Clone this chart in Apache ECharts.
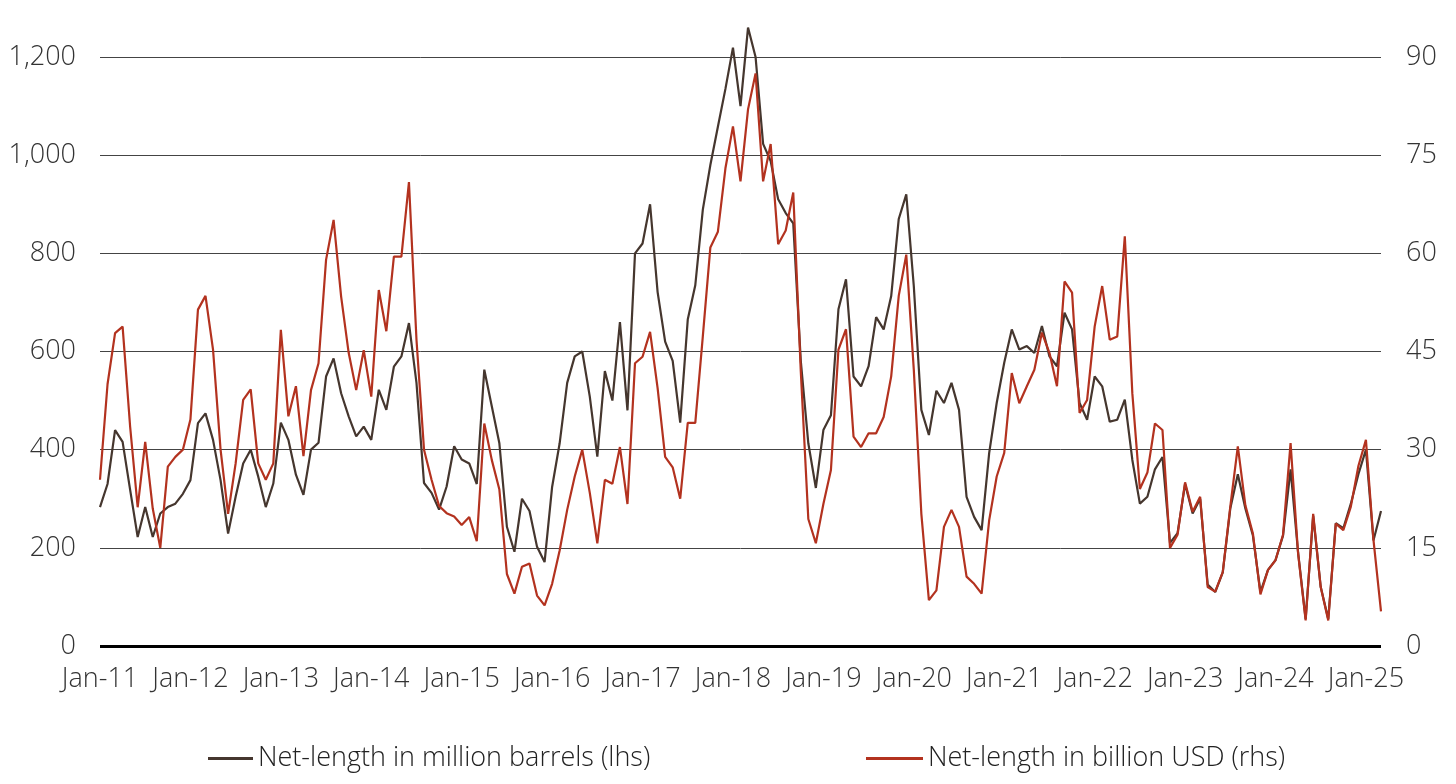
<!doctype html>
<html lang="en">
<head>
    <meta charset="UTF-8">
    <title>Net-length</title>
    <script src="https://cdn.jsdelivr.net/npm/echarts@6/dist/echarts.min.js"></script>
    <style>
        * {
            margin: 0;
            padding: 0;
        }

        body {
            background: #ffffff;
        }

        #chart {
            width: 1456px;
            height: 784px;
        }
    </style>
</head>
<body>
<div id="chart"></div>

<script type="application/javascript">
    // monthly readings, Jan 2011 .. Mar 2025
    const startYear = 2011;

    const barrels2011 = [283, 330, 440, 416, 318, 222, 283, 222, 270, 283, 290, 310];
    const barrels2012 = [338, 454, 474, 420, 338, 229, 304, 372, 400, 345, 283, 331];
    const barrels2013 = [455, 420, 349, 308, 400, 414, 549, 586, 515, 468, 427, 447];
    const barrels2014 = [420, 522, 481, 569, 590, 658, 536, 332, 312, 278, 325, 407];
    const barrels2015 = [380, 372, 330, 563, 488, 413, 243, 192, 300, 275, 202, 171];
    const barrels2016 = [324, 413, 536, 590, 600, 508, 386, 560, 500, 660, 480, 800];
    const barrels2017 = [820, 900, 721, 620, 581, 455, 665, 735, 889, 980, 1058, 1135];
    const barrels2018 = [1219, 1100, 1260, 1200, 1023, 988, 910, 882, 861, 581, 413, 322];
    const barrels2019 = [440, 470, 686, 747, 549, 529, 570, 670, 645, 713, 870, 920];
    const barrels2020 = [733, 481, 430, 520, 495, 536, 481, 304, 263, 236, 393, 495];
    const barrels2021 = [577, 645, 604, 611, 597, 652, 590, 570, 679, 645, 495, 461];
    const barrels2022 = [549, 529, 457, 461, 502, 379, 290, 304, 360, 385, 210, 230];
    const barrels2023 = [330, 270, 300, 125, 110, 150, 280, 350, 280, 225, 110, 155];
    const barrels2024 = [175, 225, 360, 190, 55, 265, 120, 55, 250, 240, 290, 350];
    const barrels2025 = [400, 215, 275];

    const usd2011 = [25.4, 40.0, 47.8, 48.8, 33.5, 21.2, 31.2, 21.0, 15.0, 27.4, 28.9, 30.0];
    const usd2012 = [34.6, 51.4, 53.5, 45.3, 30.0, 20.2, 27.9, 37.6, 39.2, 27.9, 25.4, 27.9];
    const usd2013 = [48.3, 35.1, 39.7, 29.0, 39.1, 43.2, 59.0, 65.1, 53.4, 44.8, 39.1, 45.2];
    const usd2014 = [38.1, 54.4, 48.1, 59.5, 59.5, 70.9, 46.8, 30.0, 25.4, 21.4, 20.3, 19.8];
    const usd2015 = [18.5, 19.7, 16.0, 34.0, 28.4, 23.9, 11.0, 8.0, 12.1, 12.6, 7.7, 6.2];
    const usd2016 = [9.5, 14.6, 20.8, 25.9, 30.0, 23.4, 15.7, 25.4, 24.8, 30.4, 21.7, 43.2];
    const usd2017 = [44.2, 48.0, 39.4, 28.9, 27.3, 22.5, 34.1, 34.1, 47.3, 60.9, 63.3, 73.0];
    const usd2018 = [79.4, 71.0, 82.0, 87.5, 71.0, 76.7, 61.4, 63.5, 69.3, 42.0, 19.4, 15.7];
    const usd2019 = [21.7, 26.9, 45.3, 48.4, 32.0, 30.4, 32.5, 32.5, 35.0, 41.2, 53.5, 59.8];
    const usd2020 = [42.2, 20.2, 7.0, 8.5, 18.2, 20.8, 18.2, 10.6, 9.5, 8.0, 19.2, 25.9];
    const usd2021 = [29.5, 41.7, 37.1, 39.7, 42.2, 47.9, 44.8, 39.7, 55.7, 54.0, 35.6, 37.6];
    const usd2022 = [48.8, 55.0, 46.8, 47.3, 62.6, 38.6, 24.0, 26.5, 34.0, 33.0, 15.0, 17.0];
    const usd2023 = [25.0, 20.5, 22.8, 9.0, 8.3, 11.3, 21.3, 30.5, 21.5, 17.2, 7.9, 11.6];
    const usd2024 = [13.1, 17.0, 31.0, 14.1, 3.9, 20.2, 9.0, 3.9, 18.7, 17.7, 21.3, 27.5];
    const usd2025 = [31.5, 16.2, 5.3];

    const leftTicks = [0, 200, 400, 600, 800, 1000, 1200];
    const rightTicks = [0, 15, 30, 45, 60, 75, 90];

    const barrels = [].concat(barrels2011, barrels2012, barrels2013, barrels2014, barrels2015,
        barrels2016, barrels2017, barrels2018, barrels2019, barrels2020, barrels2021,
        barrels2022, barrels2023, barrels2024, barrels2025);
    const usd = [].concat(usd2011, usd2012, usd2013, usd2014, usd2015, usd2016, usd2017,
        usd2018, usd2019, usd2020, usd2021, usd2022, usd2023, usd2024, usd2025);

    const monthNames = ['Jan', 'Feb', 'Mar', 'Apr', 'May', 'Jun', 'Jul', 'Aug', 'Sep', 'Oct', 'Nov', 'Dec'];
    const months = barrels.map(function (v, i) {
        const yy = String(startYear + Math.floor(i / 12)).slice(2);
        return monthNames[i % 12] + '-' + yy;
    });

    const fontFamily = '"Open Sans", "Noto Sans", sans-serif';
    const labelStyle = {
        color: '#333333',
        fontSize: 27,
        fontFamily: fontFamily,
        fontWeight: 300
    };
    const legendText = {color: '#222222', fontSize: 27, fontFamily: fontFamily, fontWeight: 300};

    const chart = echarts.init(document.getElementById('chart'), null, {renderer: 'canvas'});

    const option = {
        backgroundColor: '#ffffff',
        animation: false,
        grid: {
            left: 100,
            right: 75,
            top: 57,
            bottom: 138
        },
        legend: [
            {
                left: 203,
                top: 740,
                itemWidth: 45,
                itemHeight: 3,
                icon: 'rect',
                textStyle: legendText,
                data: ['Net-length in million barrels (lhs)']
            },
            {
                left: 861,
                top: 740,
                itemWidth: 57,
                itemHeight: 3,
                icon: 'rect',
                textStyle: legendText,
                data: ['Net-length in billion USD (rhs)']
            }
        ],
        xAxis: {
            type: 'category',
            data: months,
            boundaryGap: false,
            axisTick: {show: false},
            axisLine: {show: false},
            splitLine: {show: false},
            axisLabel: Object.assign({}, labelStyle, {
                margin: 20,
                interval: function (i) {
                    return i % 12 === 0;
                }
            })
        },
        yAxis: [
            {
                type: 'value',
                min: leftTicks[0],
                max: leftTicks[leftTicks.length - 1],
                interval: leftTicks[1] - leftTicks[0],
                axisLine: {show: false},
                axisTick: {show: false},
                splitLine: {lineStyle: {color: '#444444', width: 1}},
                axisLabel: Object.assign({}, labelStyle, {
                    margin: 24,
                    formatter: function (v) {
                        return v.toLocaleString('en-US');
                    }
                })
            },
            {
                type: 'value',
                min: rightTicks[0],
                max: rightTicks[rightTicks.length - 1],
                interval: rightTicks[1] - rightTicks[0],
                position: 'right',
                axisLine: {show: false},
                axisTick: {show: false},
                splitLine: {show: false},
                axisLabel: Object.assign({}, labelStyle, {margin: 25, align: 'left'})
            }
        ],
        series: [
            {
                name: 'Net-length in million barrels (lhs)',
                type: 'line',
                yAxisIndex: 0,
                data: barrels,
                symbol: 'none',
                clip: false,
                color: '#45362e',
                lineStyle: {color: '#45362e', width: 2.2},
                markLine: {
                    silent: true,
                    symbol: 'none',
                    label: {show: false},
                    lineStyle: {color: '#000000', width: 3, type: 'solid'},
                    data: [{yAxis: 0}]
                }
            },
            {
                name: 'Net-length in billion USD (rhs)',
                type: 'line',
                yAxisIndex: 1,
                data: usd,
                symbol: 'none',
                clip: false,
                color: '#b3321f',
                lineStyle: {color: '#b3321f', width: 2.2}
            }
        ]
    };

    chart.setOption(option);
</script>
</body>
</html>
